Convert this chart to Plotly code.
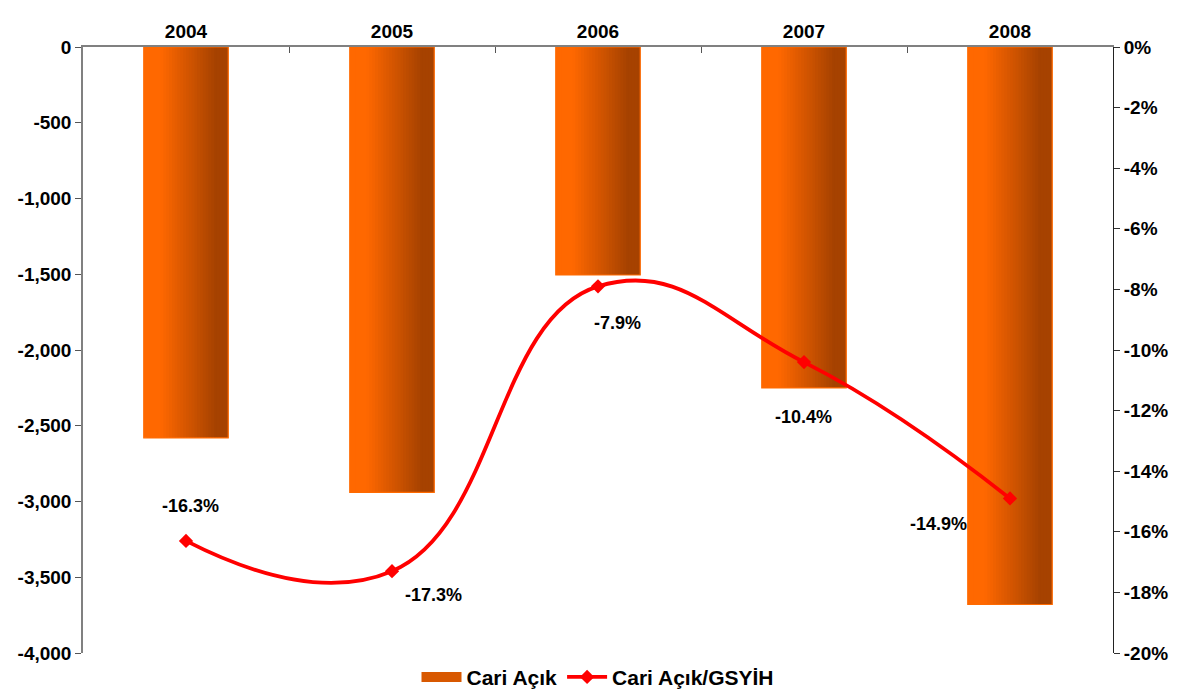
import plotly.graph_objects as go

# Data
years = ['2004', '2005', '2006', '2007', '2008']
cari_acik = [-2580, -2940, -1505, -2250, -3680]
cari_acik_gsyih = [-16.3, -17.3, -7.9, -10.4, -14.9]
label_shift = [(4, 35), (41, -24), (19, -37), (-1, -55), (-72, -26)]

left_ticks = [0, -500, -1000, -1500, -2000, -2500, -3000, -3500, -4000]
right_ticks = [0, -2, -4, -6, -8, -10, -12, -14, -16, -18, -20]

FONT = 'Liberation Sans, Arial, sans-serif'
ORANGE = (255, 104, 0)
BROWN = (166, 66, 0)
BAR_WIDTH = 0.41
N_SLICES = 30


def blend(t):
    # flat orange on the left, then fade into brown, flat again at the right edge
    t = min(max((t - 0.2) / 0.65, 0), 1)
    c = [round(a + (b - a) * t) for a, b in zip(ORANGE, BROWN)]
    return 'rgb({},{},{})'.format(*c)


fig = go.Figure()

# legend-only stand-in for the bar series (wide swatch like the original)
fig.add_trace(go.Scatter(
    x=years[:1], y=[None], name='Cari Açık', mode='lines',
    line=dict(color='#D85800', width=15), hoverinfo='skip'
))

# Gradient bars built from thin overlaid slices (each overlaps the next to hide seams)
slice_w = BAR_WIDTH / N_SLICES
for i in range(N_SLICES):
    off = -BAR_WIDTH / 2 + i * slice_w
    w = min(slice_w * 2.5, BAR_WIDTH / 2 - off)
    fig.add_trace(go.Bar(
        x=years, y=cari_acik, name='Cari Açık',
        width=[w] * len(years), offset=off,
        marker=dict(color=blend((i + 0.5) / N_SLICES), line_width=0),
        showlegend=False, hoverinfo='skip'
    ))

# Outline
fig.add_trace(go.Bar(
    x=years, y=cari_acik, name='Cari Açık',
    width=[BAR_WIDTH] * len(years), offset=-BAR_WIDTH / 2,
    marker=dict(color='rgba(0,0,0,0)', line=dict(color='#FF6A00', width=1.2)),
    showlegend=False
))

fig.add_trace(go.Scatter(
    x=years, y=cari_acik_gsyih, name='Cari Açık/GSYİH',
    yaxis='y2', mode='lines+markers',
    line=dict(color='#FF0000', width=3.8, shape='spline', smoothing=1.3),
    marker=dict(symbol='diamond', size=11, color='#FF0000')
))

for i, (v, (dx, dy)) in enumerate(zip(cari_acik_gsyih, label_shift)):
    fig.add_annotation(
        x=i, y=v, xref='x', yref='y2', text=f'{v:.1f}%',
        showarrow=False, xshift=dx, yshift=dy,
        font=dict(family=FONT, size=18, color='black', weight='bold')
    )

# size/margins allow for the page's 8px body offset
fig.update_layout(
    width=1181, height=703,
    margin=dict(l=75, r=76, t=39, b=58),
    plot_bgcolor='white', paper_bgcolor='white',
    barmode='overlay', bargap=0.59,
    font=dict(family=FONT, size=18, color='black', weight='bold'),
    xaxis=dict(
        side='top', type='category', categoryorder='array', categoryarray=years,
        showgrid=False, range=[-0.5, 4.5], automargin=False,
        showline=True, linecolor='#808080', linewidth=1.5,
        ticks='inside', ticklen=6, tickcolor='#555', tickson='boundaries',
        tickangle=0, tickfont=dict(size=19, weight='bold')
    ),
    yaxis=dict(
        range=[-4000, 0], tickvals=left_ticks, automargin=False,
        ticktext=[f'{v:,}' for v in left_ticks], showgrid=False,
        zeroline=False, showline=True, linecolor='#808080', linewidth=1.5,
        ticks='outside', ticklen=6, tickcolor='#555',
        tickfont=dict(size=19, weight='bold')
    ),
    yaxis2=dict(
        range=[-20, 0], tickvals=right_ticks, automargin=False,
        ticktext=[f'{v}%' for v in right_ticks], overlaying='y', side='right',
        showgrid=False, zeroline=False, showline=True, linecolor='#222',
        linewidth=1, ticks='outside', ticklen=6, tickcolor='#333',
        tickfont=dict(size=19, weight='bold')
    ),
    legend=dict(
        orientation='h', x=0.5, xanchor='center', y=-0.04, yanchor='middle',
        font=dict(size=21, weight='bold'), itemwidth=40
    )
)

fig.write_html('out.html')
